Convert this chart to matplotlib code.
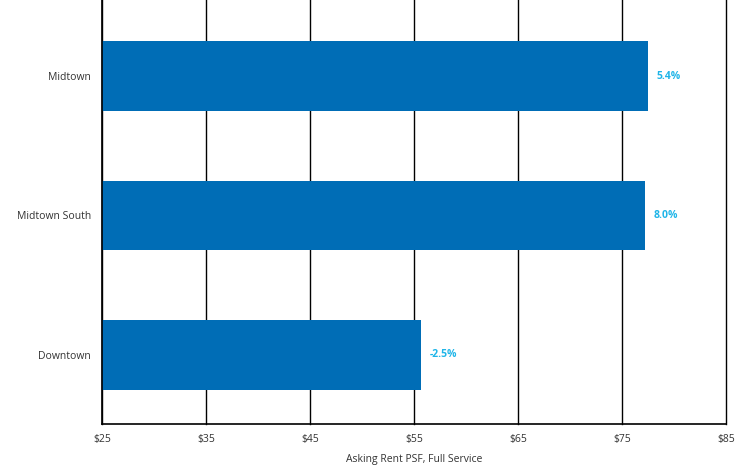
import matplotlib.pyplot as plt

plt.rcParams['font.family'] = ['Open Sans', 'DejaVu Sans']

submarkets = ['Midtown', 'Midtown South', 'Downtown']
asking_rent = [77.5, 77.2, 55.7]
yoy_change = ['5.4%', '8.0%', '-2.5%']
x_ticks = [25, 35, 45, 55, 65, 75, 85]

fig = plt.figure(figsize=(7.4, 4.66), dpi=100)
ax = fig.add_axes([0.1378, 0.0901, 0.8432, 0.9099])

ypos = range(len(submarkets))
ax.barh(ypos, [r - 25 for r in asking_rent], left=25, height=0.5,
        color='#006db6', zorder=3)

for y, r, lab in zip(ypos, asking_rent, yoy_change):
    ax.text(r + 0.8, y, lab, va='center', ha='left', fontsize=7.5,
            fontweight='bold', color='#1fb5e8', zorder=4)

ax.set_xlim(25, 85)
ax.set_ylim(2.495, -0.545)
ax.set_xticks(x_ticks)
ax.set_xticklabels(['$%d' % t for t in x_ticks])
ax.set_yticks(list(ypos))
ax.set_yticklabels(submarkets)
ax.tick_params(length=0, labelsize=7.5, colors='#333333')
ax.tick_params(axis='x', pad=7)
ax.tick_params(axis='y', pad=8)

ax.grid(axis='x', color='black', linewidth=1, zorder=1)
for gl in ax.get_xgridlines():
    gl.set_clip_on(False)
for s in ['top', 'right']:
    ax.spines[s].set_visible(False)
for s in ['left', 'bottom']:
    ax.spines[s].set_color('black')
    ax.spines[s].set_linewidth(1.2)
    ax.spines[s].set_zorder(5)

ax.set_xlabel('Asking Rent PSF, Full Service', fontsize=7.5, color='#333333',
              labelpad=7)

fig.savefig('out.png', dpi=100)
